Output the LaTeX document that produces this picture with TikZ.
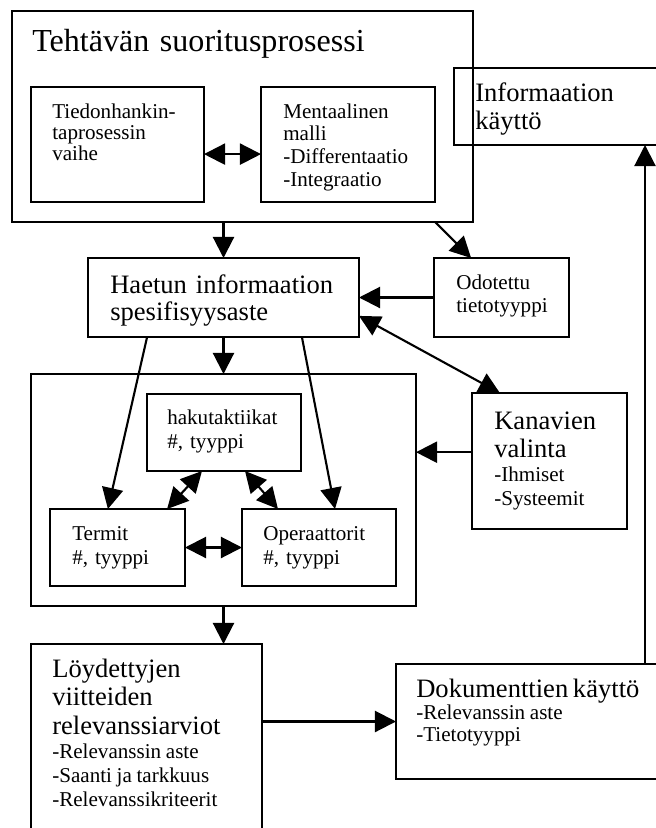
\documentclass[tikz,border=0pt]{standalone}
\usepackage{fontspec}
\setmainfont{Liberation Serif}
\usetikzlibrary{arrows.meta}

\newcommand{\pieni}{\fontsize{15}{17}\selectfont}
\newcommand{\iso}{\fontsize{18.9}{20.6}\selectfont}
\newcommand{\otsikko}{\fontsize{22.8}{26}\selectfont}

\begin{document}
\begin{tikzpicture}[
		laatikko/.style={draw, line width=1.5pt, outer sep=0pt, inner sep=0pt, anchor=north west},
		teksti/.style={anchor=base west, inner sep=0pt, text width=9cm, align=left},
		nuoli/.style={line width=1.5pt, -{Triangle[length=15pt,width=15pt]}},
		kaksinuoli/.style={line width=1.5pt, {Triangle[length=15pt,width=15pt]}-{Triangle[length=15pt,width=15pt]}}
	]
			\useasboundingbox (0,0) rectangle (16.4,-20.7);
			\node [laatikko, minimum width=11.525cm, minimum height=5.275cm] (tehtava) at (0.3,-0.275) {};
			\node [laatikko, minimum width=4.325cm, minimum height=2.875cm] (tiedon) at (0.775,-2.175) {};
			\node [laatikko, minimum width=4.35cm, minimum height=2.875cm] (mentaal) at (6.525,-2.175) {};
			\node [laatikko, minimum width=5.2cm, minimum height=1.925cm] (info) at (11.35,-1.7) {};
			\node [laatikko, minimum width=6.775cm, minimum height=1.975cm] (haetun) at (2.2,-6.45) {};
			\node [laatikko, minimum width=3.375cm, minimum height=1.975cm] (odotettu) at (10.85,-6.45) {};
			\node [laatikko, minimum width=9.625cm, minimum height=5.8cm] (ryhma) at (0.775,-9.35) {};
			\node [laatikko, minimum width=3.85cm, minimum height=1.925cm] (hakut) at (3.675,-9.85) {};
			\node [laatikko, minimum width=3.375cm, minimum height=1.925cm] (termit) at (1.25,-12.725) {};
			\node [laatikko, minimum width=3.85cm, minimum height=1.925cm] (operaat) at (6.05,-12.725) {};
			\node [laatikko, minimum width=3.875cm, minimum height=3.4cm] (kanavien) at (11.8,-9.825) {};
			\node [laatikko, minimum width=5.775cm, minimum height=4.8cm] (loyd) at (0.775,-16.1) {};
			\node [laatikko, minimum width=6.65cm, minimum height=2.875cm] (dok) at (9.9,-16.6) {};
			\coordinate (oikea) at (16.125,0);
			\node [teksti, font=\otsikko] (otsikkoteksti) at (0.8,-1.3) {Tehtävän suoritusprosessi};
			\node [teksti, font=\fontsize{15}{15}\selectfont] (tiedonteksti) at (1.3,-2.95) {Tiedonhankin-\\taprosessin\\vaihe};
			\node [teksti, font=\fontsize{15}{16.3}\selectfont] (mentaalteksti) at (7.075,-2.95) {Mentaalinen\\malli\\-Differentaatio\\-Integraatio};
			\node [teksti, font=\fontsize{18.9}{19.9}\selectfont] (infoteksti) at (11.875,-2.55) {Informaation\\käyttö};
			\node [teksti, font=\fontsize{18.9}{19.9}\selectfont] (haetunteksti) at (2.75,-7.325) {Haetun informaation\\spesifisyysaste};
			\node [teksti, font=\pieni] (odotettuteksti) at (11.4,-7.225) {Odotettu\\tietotyyppi};
			\node [teksti, font=\fontsize{15}{17.7}\selectfont] (hakutteksti) at (4.175,-10.6) {hakutaktiikat\\\#, tyyppi};
			\node [teksti, font=\fontsize{15}{17.7}\selectfont] (termitteksti) at (1.8,-13.5) {Termit\\\#, tyyppi};
			\node [teksti, font=\fontsize{15}{17.7}\selectfont] (operaatteksti) at (6.575,-13.5) {Operaattorit\\\#, tyyppi};
			\node [teksti] (kanavienteksti) at (12.35,-10.725) {{\iso Kanavien\\valinta\par}{\pieni -Ihmiset\\-Systeemit\par}};
			\node [teksti] (loydteksti) at (1.3,-16.925) {{\iso Löydettyjen\\viitteiden\\relevanssiarviot\par}{\pieni -Relevanssin aste\\-Saanti ja tarkkuus\\-Relevanssikriteerit\par}};
			\node [teksti] (dokteksti) at (10.4,-17.425) {{\iso Dokumenttien käyttö\par}{\fontsize{15}{16}\selectfont -Relevanssin aste\\-Tietotyyppi\par}};
			\draw [kaksinuoli] ([yshift=-0.24cm]tiedon.east) -- ([yshift=-0.24cm]mentaal.west);
			\draw [nuoli] (tehtava.south -| haetun.north) -- (haetun.north);
			\draw [nuoli] (tehtava.south -| mentaal.east) -- ([xshift=-0.76cm]odotettu.north);
			\draw [nuoli] (odotettu.west) -- (odotettu.west -| haetun.east);
			\draw [kaksinuoli] ([yshift=-0.46cm]haetun.east) -- ([xshift=-1.24cm]kanavien.north);
			\draw [nuoli] (haetun.south) -- (haetun.south |- ryhma.north);
			\draw [nuoli] ([xshift=-1.91cm]haetun.south) -- ([xshift=-0.24cm]termit.north);
			\draw [nuoli] ([xshift=1.96cm]haetun.south) -- ([xshift=0.4cm]operaat.north);
			\draw [kaksinuoli] ([xshift=-0.55cm]hakut.south) -- ([xshift=1.24cm]termit.north);
			\draw [kaksinuoli] ([xshift=0.525cm]hakut.south) -- ([xshift=-1.025cm]operaat.north);
			\draw [kaksinuoli] (termit.east) -- (operaat.west);
			\draw [nuoli] ([yshift=0.22cm]kanavien.west) -- ([yshift=0.22cm]kanavien.west -| ryhma.east);
			\draw [nuoli] (ryhma.south) -- (ryhma.south |- loyd.north);
			\draw [nuoli] (dok.west -| loyd.east) -- (dok.west);
			\draw [nuoli] (dok.north -| oikea) -- (info.south -| oikea);
		\end{tikzpicture}
\end{document}
